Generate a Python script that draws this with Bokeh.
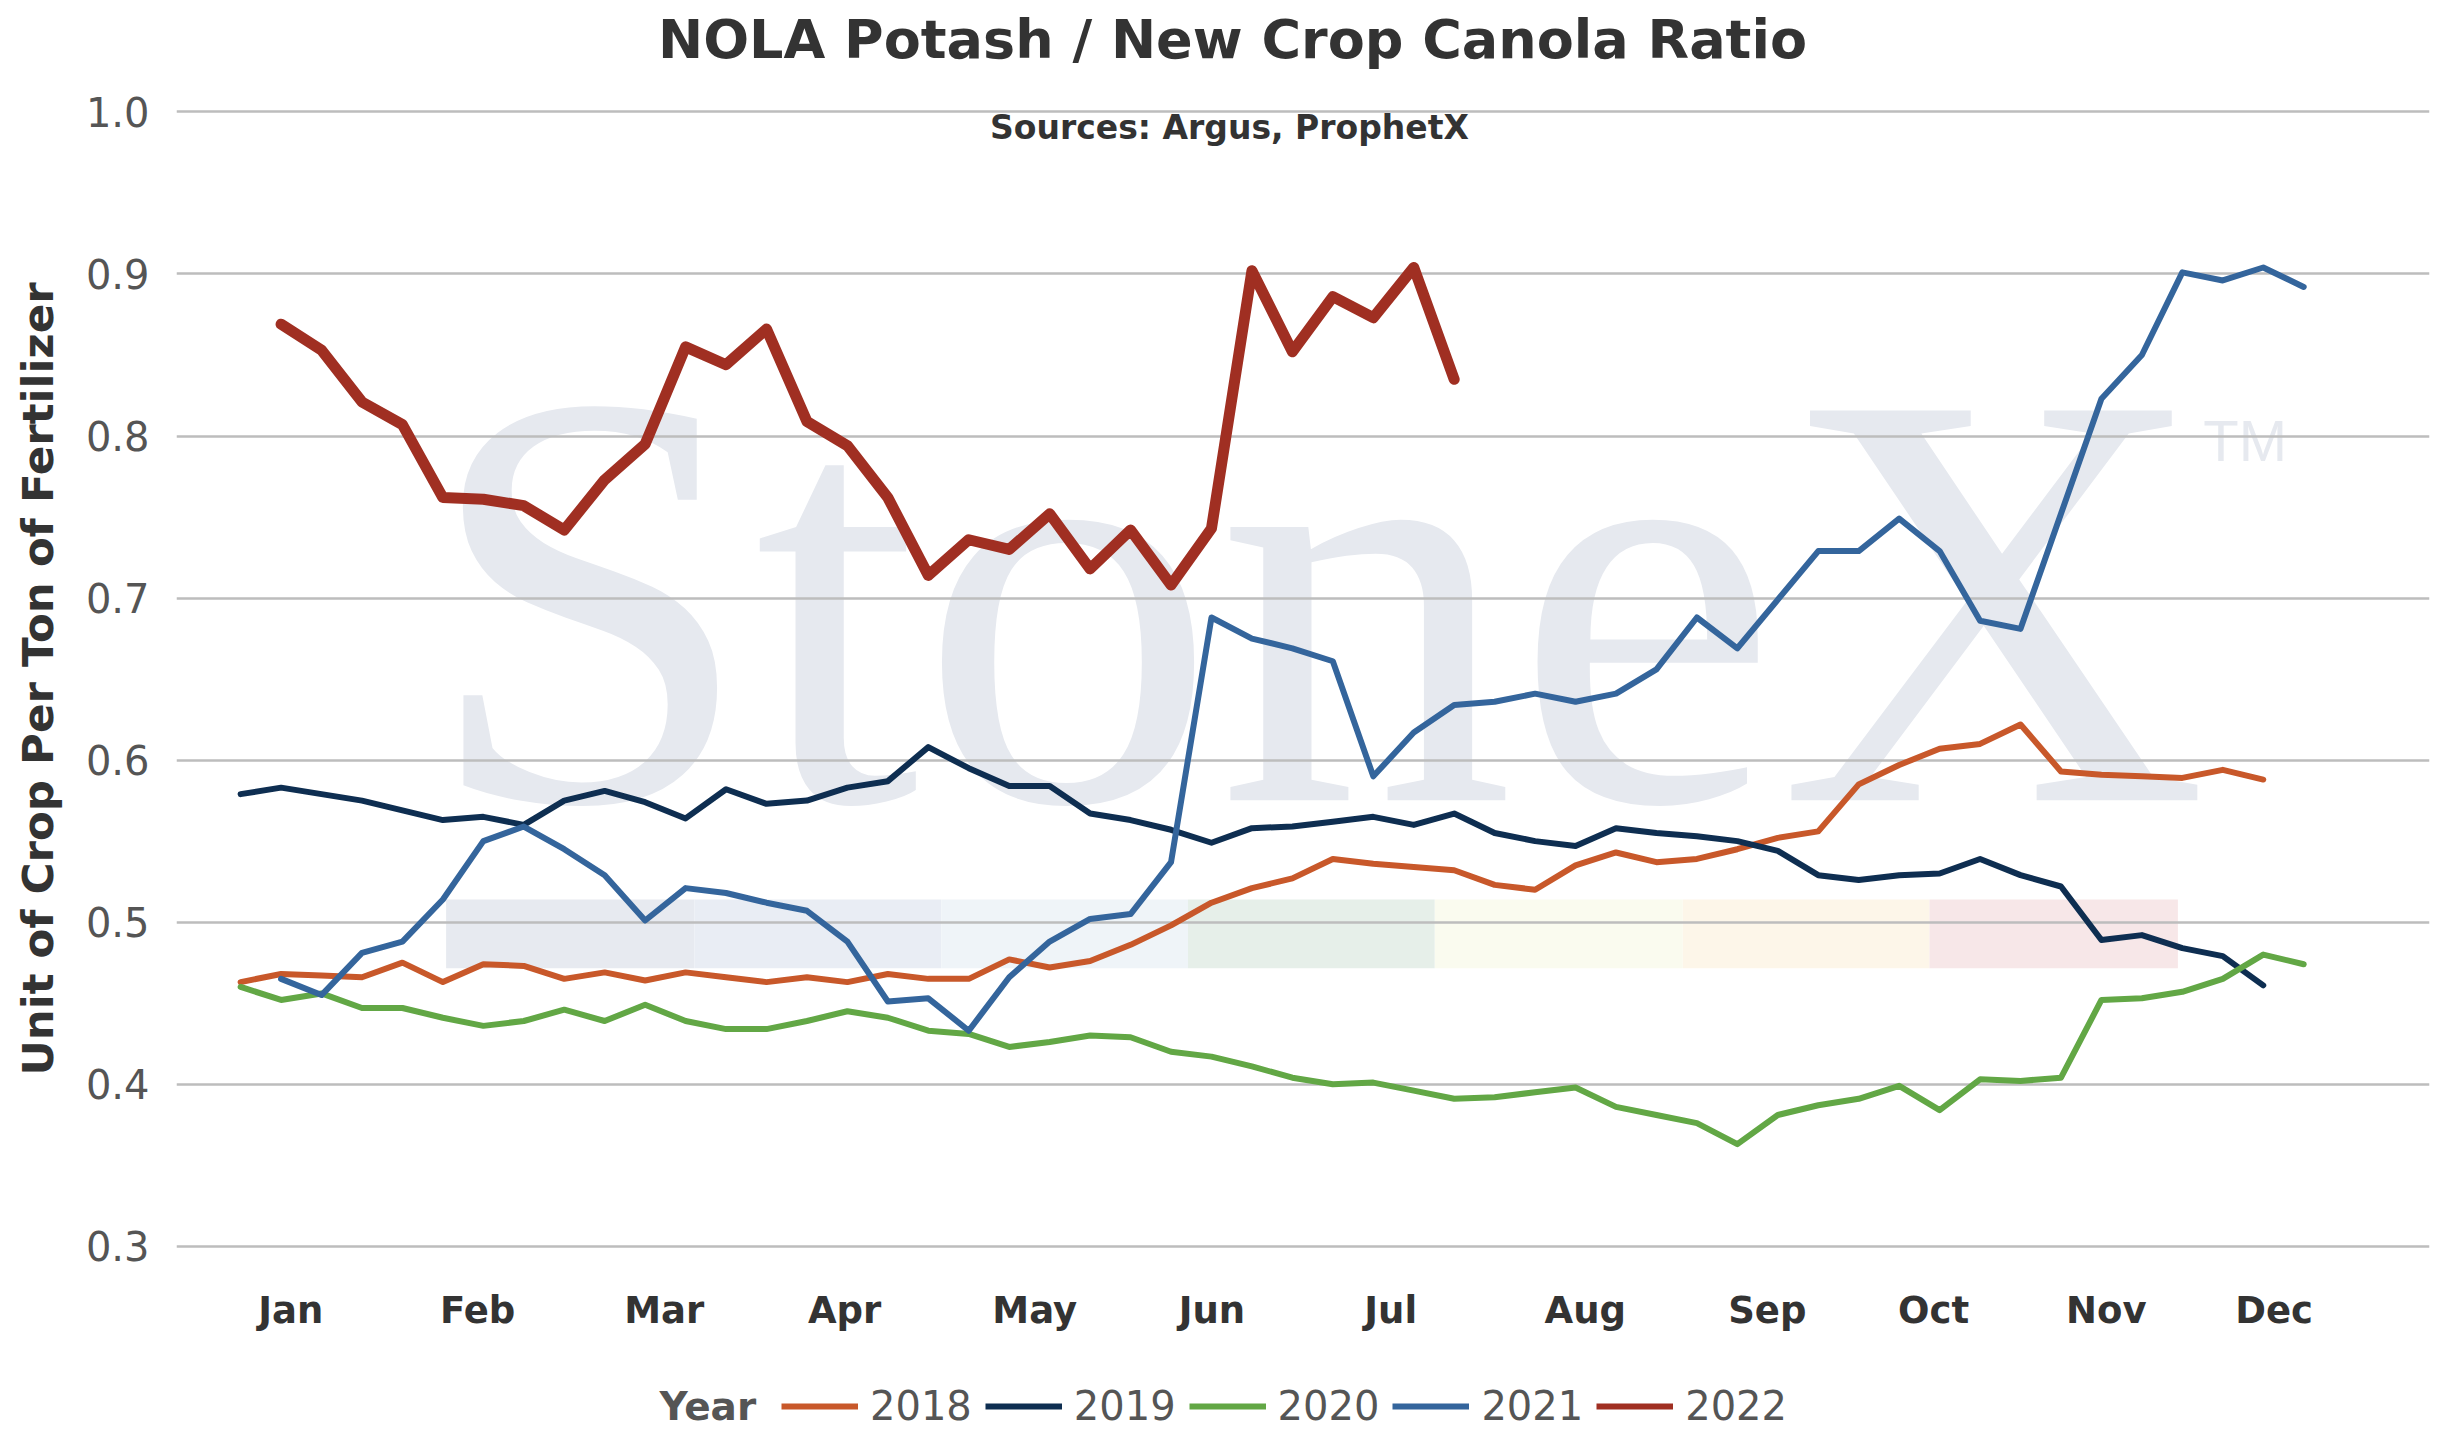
""" NOLA potash / new crop canola ratio, weekly, by year """
import numpy as np
from bokeh.plotting import figure
from bokeh.layouts import column
from bokeh.models import FixedTicker, Label, Legend, LegendItem, Range1d, PrintfTickFormatter
from bokeh.core.properties import value
from bokeh.embed import file_html
from bokeh.resources import INLINE

# weekly ratio values (week index 0 = first week of Jan)
y2018 = [0.463, 0.468, 0.467, 0.466, 0.475, 0.463, 0.474, 0.473, 0.465, 0.469,
         0.464, 0.469, 0.466, 0.463, 0.466, 0.463, 0.468, 0.465, 0.465, 0.477,
         0.472, 0.476, 0.486, 0.498, 0.512, 0.521, 0.527, 0.539, 0.536, 0.534,
         0.532, 0.523, 0.520, 0.535, 0.543, 0.537, 0.539, 0.545, 0.552, 0.556,
         0.585, 0.597, 0.607, 0.610, 0.622, 0.593, 0.591, 0.590, 0.589, 0.594, 0.588]
y2019 = [0.579, 0.583, 0.579, 0.575, 0.569, 0.563, 0.565, 0.560, 0.575, 0.581,
         0.574, 0.564, 0.582, 0.573, 0.575, 0.583, 0.587, 0.608, 0.595, 0.584,
         0.584, 0.567, 0.563, 0.557, 0.549, 0.558, 0.559, 0.562, 0.565, 0.560,
         0.567, 0.555, 0.550, 0.547, 0.558, 0.555, 0.553, 0.550, 0.544, 0.529,
         0.526, 0.529, 0.530, 0.539, 0.529, 0.522, 0.489, 0.492, 0.484, 0.479, 0.461]
y2020 = [0.460, 0.452, 0.456, 0.447, 0.447, 0.441, 0.436, 0.439, 0.446, 0.439,
         0.449, 0.439, 0.434, 0.434, 0.439, 0.445, 0.441, 0.433, 0.431, 0.423,
         0.426, 0.430, 0.429, 0.420, 0.417, 0.411, 0.404, 0.400, 0.401, 0.396,
         0.391, 0.392, 0.395, 0.398, 0.386, 0.381, 0.376, 0.363, 0.381, 0.387,
         0.391, 0.399, 0.384, 0.403, 0.402, 0.404, 0.452, 0.453, 0.457, 0.465, 0.480, 0.474]
y2021 = [0.465, 0.455, 0.481, 0.488, 0.514, 0.550, 0.559, 0.545, 0.529, 0.501,
         0.521, 0.518, 0.512, 0.507, 0.488, 0.451, 0.453, 0.433, 0.466, 0.488,
         0.502, 0.505, 0.537, 0.688, 0.675, 0.669, 0.661, 0.590, 0.617, 0.634,
         0.636, 0.641, 0.636, 0.641, 0.656, 0.688, 0.669, 0.699, 0.729, 0.729,
         0.749, 0.729, 0.686, 0.681, 0.752, 0.823, 0.850, 0.901, 0.896, 0.904, 0.892]
y2022 = [0.869, 0.853, 0.821, 0.807, 0.762, 0.761, 0.757, 0.742, 0.773, 0.795,
         0.855, 0.844, 0.866, 0.809, 0.794, 0.762, 0.714, 0.736, 0.730, 0.752,
         0.718, 0.742, 0.708, 0.743, 0.902, 0.852, 0.886, 0.873, 0.904, 0.835]

years = ["2018", "2019", "2020", "2021", "2022"]
series = [y2018, y2019, y2020, y2021, y2022]
first_week = [0, 0, 0, 1, 1]
colors = ["#c8582a", "#0e2e51", "#62a745", "#34659c", "#a02f22"]
widths = [6, 6, 6, 6, 11]

months = ["Jan", "Feb", "Mar", "Apr", "May", "Jun", "Jul", "Aug", "Sep", "Oct", "Nov", "Dec"]
month_pos = [1.24, 5.86, 10.47, 14.93, 19.63, 24.01, 28.43, 33.24, 37.74, 41.85, 46.12, 50.27]
y_ticks = [0.3, 0.4, 0.5, 0.6, 0.7, 0.8, 0.9, 1.0]

FONT = "DejaVu Sans"
W = 2444
LEFT, RIGHT = 176, 15   # frame borders, shared by the three stacked figures


def bare_fig(height):
    f = figure(width=W, height=height, x_range=Range1d(0, 1), y_range=Range1d(0, 1),
               x_axis_type=None, y_axis_type=None, toolbar_location=None,
               output_backend="svg", min_border=0,
               min_border_left=LEFT, min_border_right=RIGHT)
    f.outline_line_color = None
    f.title.visible = False
    f.xgrid.visible = False
    f.ygrid.visible = False
    return f


# title strip (label x is measured from the frame's left edge)
pt = bare_fig(80)
pt.add_layout(Label(x=1056, y=41, x_units="screen", y_units="screen",
                    text="NOLA Potash / New Crop Canola Ratio",
                    text_align="center", text_baseline="middle", text_font=FONT,
                    text_font_size="54px", text_font_style="bold", text_color="#333333"))

# main chart
p = figure(width=W, height=1269, x_range=Range1d(-1.585, 54.11), y_range=Range1d(0.2949, 1.0052),
           toolbar_location=None, output_backend="svg",
           min_border_left=LEFT, min_border_right=RIGHT, min_border_top=23, min_border_bottom=95)
p.title.visible = False
p.outline_line_color = None

# StoneX watermark (logo text + colour strip), kept under the grid
wm = "#e6e9ef"
band_edges = [5.08, 11.22, 17.32, 23.42, 29.52, 35.65, 41.75, 47.89]
band_colors = ["#e7eaf0", "#e9edf4", "#eff4f8", "#e6efe9", "#fafbef", "#fdf6e9", "#f7e7e8"]
p.quad(left=band_edges[:-1], right=band_edges[1:], top=0.514, bottom=0.4715,
       fill_color=band_colors, line_color=None, level="image")
p.text(x=[4.51], y=[0.699], text=["StoneX"], text_font=value("Liberation Serif"),
       text_font_size="595px", text_color=wm, text_baseline="alphabetic", level="image")
p.text(x=[48.52], y=[0.797], text=["TM"], text_font=value("Liberation Sans"),
       text_font_size="58px", text_color=wm, text_baseline="alphabetic", level="image")

for ys, w0, c, lw in zip(series, first_week, colors, widths):
    xs = np.arange(len(ys)) + w0
    p.line(xs, ys, line_color=c, line_width=lw, line_join="round", line_cap="round")

p.add_layout(Label(x=1053, y=1127, x_units="screen", y_units="screen",
                   text="Sources: Argus, ProphetX",
                   text_align="center", text_baseline="middle", text_font=FONT,
                   text_font_size="33px", text_font_style="bold", text_color="#333333"))

p.xgrid.visible = False
p.ygrid.grid_line_color = "#bdbdbd"
p.ygrid.grid_line_width = 2.5
for ax in (p.xaxis[0], p.yaxis[0]):
    ax.axis_line_color = None
    ax.major_tick_line_color = None
    ax.minor_tick_line_color = None
    ax.major_tick_in = 0
    ax.major_tick_out = 0

p.yaxis.ticker = FixedTicker(ticks=y_ticks)
p.yaxis.formatter = PrintfTickFormatter(format="%.1f")
p.yaxis.major_label_text_font = FONT
p.yaxis.major_label_text_font_size = "40px"
p.yaxis.major_label_text_color = "#555555"
p.yaxis.major_label_standoff = 27
p.yaxis.axis_label = "Unit of Crop Per Ton of Fertilizer"
p.yaxis.axis_label_text_font = FONT
p.yaxis.axis_label_text_font_size = "43.5px"
p.yaxis.axis_label_text_font_style = "bold"
p.yaxis.axis_label_text_color = "#333333"
p.yaxis.axis_label_standoff = 20

p.xaxis.ticker = FixedTicker(ticks=month_pos)
p.xaxis.major_label_overrides = {pos: m for pos, m in zip(month_pos, months)}
p.xaxis.major_label_text_font = FONT
p.xaxis.major_label_text_font_size = "37px"
p.xaxis.major_label_text_font_style = "bold"
p.xaxis.major_label_text_color = "#333333"
p.xaxis.major_label_standoff = 34

# legend strip; proxies hold one point outside the view so the legend has a colour to draw
pl = bare_fig(89)
items = []
for yr, c in zip(years, colors):
    proxy = pl.line(x=[5], y=[5], line_color=c, line_width=6)
    items.append(LegendItem(label=yr, renderers=[proxy]))
legend = Legend(items=items, orientation="horizontal", location=(605, 9),
                glyph_width=77, glyph_height=20, label_standoff=12, spacing=13,
                padding=0, margin=0, border_line_alpha=0, background_fill_alpha=0,
                label_text_font_size="40px", label_text_color="#555555", label_text_font=FONT)
pl.add_layout(legend)
pl.add_layout(Label(x=483, y=32, x_units="screen", y_units="screen", text="Year",
                    text_align="left", text_baseline="middle", text_font=FONT,
                    text_font_size="39px", text_font_style="bold", text_color="#555555"))

layout = column(pt, p, pl, spacing=0)
open("out.html", "w").write(file_html(layout, INLINE))
